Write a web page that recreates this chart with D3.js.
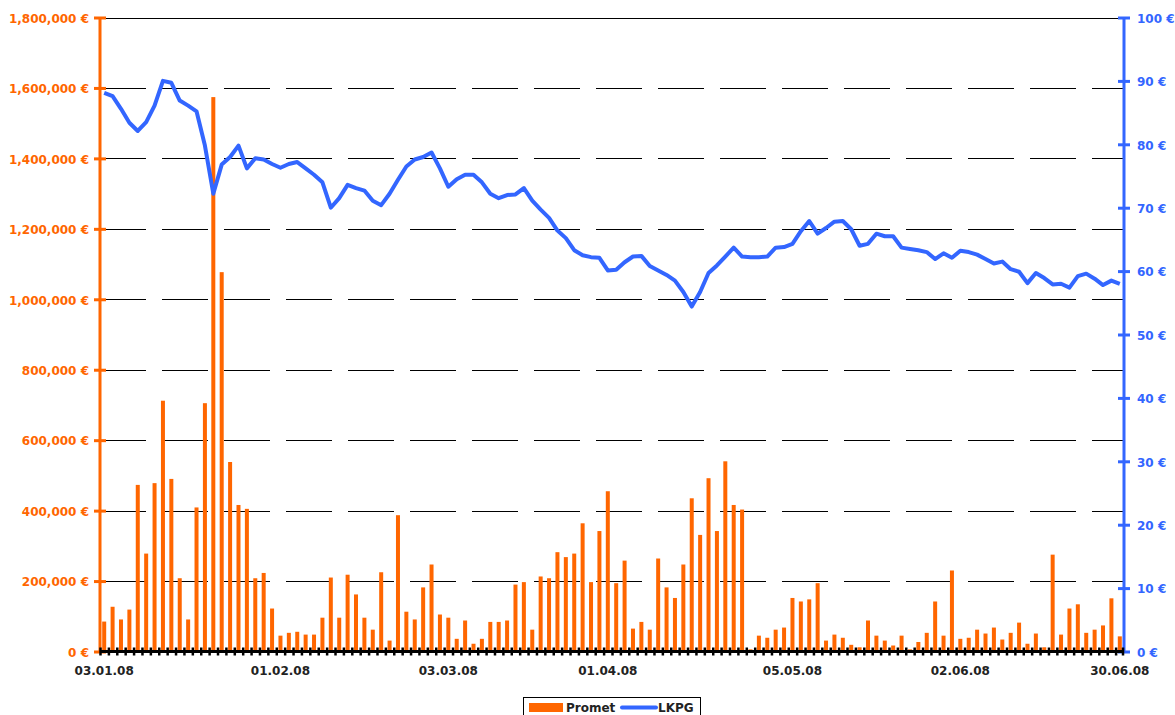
<!DOCTYPE html>
<html>
<head>
<meta charset="utf-8">
<script src="https://cdn.jsdelivr.net/npm/d3@7"></script>
<style>
  body { margin: 0; background: #fff; }
  text { font-family: "DejaVu Sans", Verdana, sans-serif; font-weight: bold; font-size: 12px; }
</style>
</head>
<body>
<div id="chart"></div>
<script>
const width = 1175;
const height = 715;

// trading days, one entry per session (03.01.08 - 30.06.08)
const days = d3.range(122);
const tickDays = [0, 21, 41, 60, 82, 102, 121];
const tickLabels = ["03.01.08", "01.02.08", "03.03.08", "01.04.08", "05.05.08", "02.06.08", "30.06.08"];

// turnover (Promet), EUR
const promet = [
  85000, 127000, 91000, 119000, 473000, 278000, 478000, 712000, 490000, 208000,
  91000, 409000, 705000, 1574000, 1077000, 538000, 416000, 405000, 208000, 223000,
  122000, 45000, 53000, 56000, 48000, 48000, 96000, 210000, 96000, 218000,
  162000, 96000, 62000, 225000, 31000, 387000, 113000, 91000, 182000, 247000,
  105000, 96000, 36000, 88000, 22000, 36000, 84000, 84000, 88000, 190000,
  197000, 62000, 213000, 208000, 282000, 268000, 278000, 364000, 197000, 342000,
  455000, 194000, 258000, 65000, 84000, 62000, 264000, 182000, 152000, 247000,
  435000, 331000, 492000, 342000, 540000, 416000, 403000, 6000, 45000, 39000,
  62000, 68000, 152000, 142000, 148000, 194000, 31000, 48000, 39000, 19000,
  12000, 88000, 45000, 31000, 17000, 45000, 6000, 27000, 53000, 142000,
  45000, 230000, 36000, 39000, 62000, 51000, 68000, 34000, 53000, 82000,
  22000, 51000, 12000, 275000, 48000, 122000, 134000, 53000, 62000, 74000,
  151000, 43000
];

// LKPG share price, EUR
const lkpg = [
  88.1, 87.6, 85.6, 83.4, 82.1, 83.5, 86.1, 90.0, 89.7, 86.9,
  86.1, 85.2, 79.8, 72.2, 76.8, 78.0, 79.8, 76.2, 77.8, 77.6,
  76.9, 76.3, 76.9, 77.2, 76.2, 75.2, 74.0, 70.0, 71.5, 73.6,
  73.1, 72.7, 71.1, 70.4, 72.2, 74.4, 76.5, 77.6, 78.0, 78.7,
  76.2, 73.3, 74.5, 75.2, 75.2, 74.0, 72.2, 71.5, 72.0, 72.1,
  73.1, 71.1, 69.7, 68.4, 66.4, 65.2, 63.3, 62.5, 62.2, 62.1,
  60.1, 60.2, 61.4, 62.3, 62.4, 60.8, 60.1, 59.4, 58.5, 56.7,
  54.4, 56.7, 59.7, 60.9, 62.3, 63.7, 62.3, 62.2, 62.2, 62.3,
  63.7, 63.8, 64.3, 66.3, 67.9, 65.9, 66.8, 67.8, 67.9, 66.6,
  64.0, 64.3, 65.9, 65.5, 65.5, 63.7, 63.5, 63.3, 63.0, 61.9,
  62.8, 62.1, 63.2, 63.0, 62.6, 61.9, 61.2, 61.5, 60.3, 59.9,
  58.1, 59.7, 58.9, 57.9, 58.0, 57.4, 59.2, 59.6, 58.8, 57.8,
  58.5, 58.0
];

const leftTicks = d3.range(0, 1800001, 200000);
const rightTicks = d3.range(0, 101, 10);

const orange = "#ff6600";
const blue = "#3366ff";
const plotLeft = 100, plotRight = 1124, plotTop = 17.5, plotBottom = 651.5;

const svg = d3.select("#chart").append("svg")
  .attr("width", width)
  .attr("height", height);

const x = d3.scaleBand().domain(days).range([plotLeft, plotRight]);
const yL = d3.scaleLinear().domain([0, 1800000]).range([plotBottom, plotTop]);
const yR = d3.scaleLinear().domain([0, 100]).range([plotBottom, plotTop]);

// grid
svg.append("g")
  .selectAll("line")
  .data(leftTicks.filter(d => d > 0))
  .enter()
  .append("line")
  .attr("x1", plotLeft)
  .attr("x2", plotRight)
  .attr("y1", d => Math.round(yL(d)) + 0.5)
  .attr("y2", d => Math.round(yL(d)) + 0.5)
  .attr("stroke", "#000")
  .attr("stroke-width", 1)
  .attr("stroke-dasharray", d => d === 1800000 ? null : "46,16");

// bars
svg.append("g")
  .selectAll("rect")
  .data(promet)
  .enter()
  .append("rect")
  .attr("x", (d, i) => x(i) + x.bandwidth() / 2 - 2)
  .attr("width", 4)
  .attr("y", d => yL(d))
  .attr("height", d => yL(0) - yL(d))
  .attr("fill", orange);

// price line
const line = d3.line()
  .x((d, i) => x(i) + x.bandwidth() / 2)
  .y(d => yR(d));

svg.append("path")
  .datum(lkpg)
  .attr("d", line)
  .attr("fill", "none")
  .attr("stroke", blue)
  .attr("stroke-width", 4)
  .attr("stroke-linejoin", "round");

// left axis
const axisL = svg.append("g")
  .attr("transform", "translate(" + plotLeft + ",0)")
  .call(d3.axisLeft(yL)
    .tickValues(leftTicks)
    .tickFormat(d => d3.format(",")(d) + " €")
    .tickSize(6)
    .tickPadding(5));
axisL.select(".domain").attr("stroke", orange).attr("stroke-width", 3).attr("d", "M0," + plotTop + "V" + plotBottom);
axisL.selectAll(".tick line").attr("stroke", orange).attr("stroke-width", 3).attr("x1", 6);
axisL.selectAll(".tick text").attr("fill", orange).attr("dy", "0.4em").style("font-size", "12px");

// right axis
const axisR = svg.append("g")
  .attr("transform", "translate(" + plotRight + ",0)")
  .call(d3.axisRight(yR)
    .tickValues(rightTicks)
    .tickFormat(d => d + " €")
    .tickSize(6)
    .tickPadding(7));
axisR.select(".domain").attr("stroke", blue).attr("stroke-width", 3).attr("d", "M0," + plotTop + "V" + plotBottom);
axisR.selectAll(".tick line").attr("stroke", blue).attr("stroke-width", 3).attr("x1", -6);
axisR.selectAll(".tick text").attr("fill", blue).attr("dy", "0.4em").style("font-size", "12px");

// bottom axis
svg.append("line")
  .attr("x1", plotLeft)
  .attr("x2", plotRight)
  .attr("y1", plotBottom)
  .attr("y2", plotBottom)
  .attr("stroke", "#000")
  .attr("stroke-width", 3);

svg.append("g")
  .selectAll("line")
  .data(days.concat([days.length]))
  .enter()
  .append("line")
  .attr("x1", d => d < days.length ? x(d) + 0.5 : plotRight - 1)
  .attr("x2", d => d < days.length ? x(d) + 0.5 : plotRight - 1)
  .attr("y1", plotBottom - 4)
  .attr("y2", plotBottom + 4)
  .attr("stroke", "#000")
  .attr("stroke-width", 2.5);

const axisX = svg.append("g")
  .attr("transform", "translate(0," + plotBottom + ")")
  .call(d3.axisBottom(x)
    .tickValues(tickDays)
    .tickFormat((d, i) => tickLabels[i])
    .tickSize(0)
    .tickPadding(15));
axisX.select(".domain").remove();
axisX.selectAll(".tick text").attr("fill", "#222").style("font-size", "12px");

// legend
const legend = svg.append("g").attr("id", "legend");
legend.append("rect")
  .attr("x", 523.5)
  .attr("y", 697.5)
  .attr("width", 177)
  .attr("height", 22)
  .attr("fill", "#fff")
  .attr("stroke", "#000")
  .attr("stroke-width", 1);
legend.append("rect")
  .attr("x", 529)
  .attr("y", 703)
  .attr("width", 34)
  .attr("height", 9)
  .attr("fill", orange);
legend.append("text")
  .text("Promet")
  .attr("x", 566)
  .attr("y", 712)
  .attr("fill", "#222");
legend.append("line")
  .attr("x1", 622)
  .attr("x2", 656)
  .attr("y1", 707.5)
  .attr("y2", 707.5)
  .attr("stroke", blue)
  .attr("stroke-width", 4)
  .attr("stroke-linecap", "round");
legend.append("text")
  .text("LKPG")
  .attr("x", 658)
  .attr("y", 712)
  .attr("fill", "#222");
</script>
</body>
</html>
